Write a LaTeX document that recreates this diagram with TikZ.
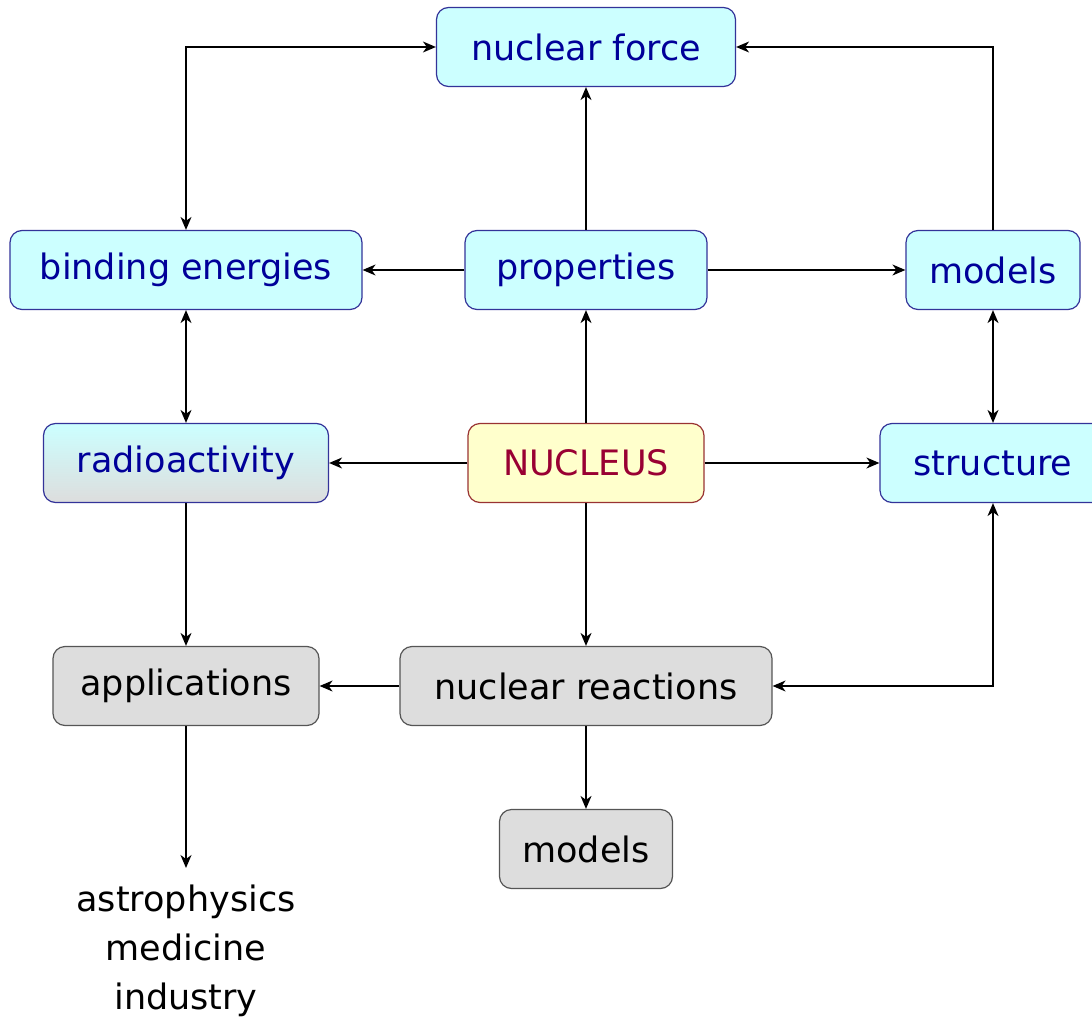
\documentclass[tikz,border=0pt]{standalone}
\usepackage{fontspec}
\setmainfont{DejaVu Sans}
\usepackage{xcolor}
\usepackage{tikz}
\usetikzlibrary{arrows.meta, positioning, calc}

\definecolor{boxcyan}{HTML}{CCFFFF}
\definecolor{boxblue}{HTML}{333399}
\definecolor{txtblue}{HTML}{000099}
\definecolor{boxyellow}{HTML}{FFFFCC}
\definecolor{boxred}{HTML}{993333}
\definecolor{txtred}{HTML}{990033}
\definecolor{boxgray}{HTML}{DDDDDD}
\definecolor{linegray}{HTML}{555555}

\begin{document}
\begin{tikzpicture}[x=1pt, y=-1pt,
  box/.style={draw, rounded corners=12pt, minimum height=79pt, line width=1.2pt,
    font=\fontsize{35}{40}\selectfont, inner sep=0pt},
  cyanbox/.style={box, fill=boxcyan, draw=boxblue, text=txtblue},
  graybox/.style={box, fill=boxgray, draw=linegray, text=black},
  link/.style={line width=1.4pt, -{Stealth[length=13pt, width=11pt, inset=4pt]}},
  both/.style={line width=1.4pt, {Stealth[length=13pt, width=11pt, inset=4pt]}-{Stealth[length=13pt, width=11pt, inset=4pt]}}]
\useasboundingbox (0,0) rectangle (1092,1025);

% Top row
\node[cyanbox, minimum width=299pt] (force) at (586, 47) {nuclear force};

% Second row
\node[cyanbox, minimum width=352pt] (binding) at (186, 270) {binding energies};
\node[cyanbox, minimum width=242pt] (props) at (586, 270) {properties};
\node[cyanbox, minimum width=174pt] (models1) at (993, 270) {models};

% Middle row
\node[box, draw=boxblue, text=txtblue, top color=boxcyan, bottom color=boxgray, minimum width=285pt] (radio) at (186, 463) {radioactivity};
\node[box, fill=boxyellow, draw=boxred, text=txtred, minimum width=236pt] (nucleus) at (586, 463) {NUCLEUS};
\node[cyanbox, minimum width=226pt] (struct) at (993, 463) {structure};

% Lower rows
\node[graybox, minimum width=266pt] (appl) at (186, 686) {applications};
\node[graybox, minimum width=372pt] (react) at (586, 686) {nuclear reactions};
\node[graybox, minimum width=173pt] (models2) at (586, 849) {models};
\node[align=center, font=\fontsize{35}{49}\selectfont] (uses) at (186, 951) {astrophysics\\medicine\\industry};
\coordinate (usestop) at (186, 868);

% Connections
\draw[both] (binding.north) |- (force.west);
\draw[link] (models1.north) |- (force.east);
\draw[link] (props) -- (force);
\draw[link] (props) -- (binding);
\draw[link] (props) -- (models1);
\draw[both] (binding) -- (radio);
\draw[both] (models1) -- (struct);
\foreach \dest in {props, radio, struct, react} {
  \draw[link] (nucleus) -- (\dest);
}
\draw[link] (radio) -- (appl);
\draw[link] (react) -- (appl);
\draw[link] (react) -- (models2);
\draw[both] (struct.south) |- (react.east);
\draw[link] (appl) -- (usestop);
\end{tikzpicture}
\end{document}
